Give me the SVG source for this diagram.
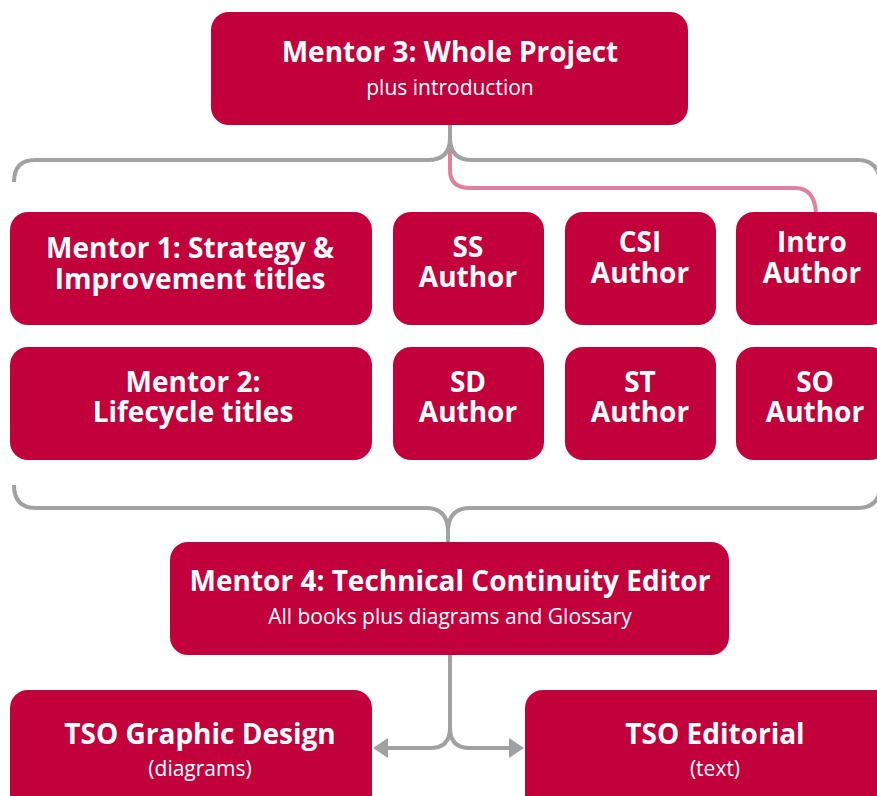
<svg xmlns="http://www.w3.org/2000/svg" width="877" height="796" viewBox="0 0 877 796">
<style>
.box{fill:#C1003C}
.t{font-family:"Open Sans","Noto Sans","Liberation Sans",sans-serif;font-weight:700;font-size:28px;fill:#fff;text-anchor:middle}
.s{font-family:"Open Sans","Noto Sans","Liberation Sans",sans-serif;font-weight:400;font-size:21px;fill:#fff;text-anchor:middle}
.g{fill:none;stroke:#A0A1A0;stroke-width:4}
.p{fill:none;stroke:#E0809D;stroke-width:4}
</style>
<defs>
<marker id="ah" viewBox="0 0 15 20" refX="12" refY="10" markerWidth="3.75" markerHeight="5" markerUnits="strokeWidth" orient="auto"><path d="M0,0 L15,10 L0,20 Z" fill="#A0A1A0"/></marker>
</defs>
<g id="connectors">
<path class="p" d="M450,140 L450,170 Q450,188 470,188 L795,188 Q814,188 816,212"/>
<path class="g" d="M450,125 L450,138 Q450,160 428,160 L35,160 Q14,160 14,182"/>
<path class="g" d="M450,138 Q450,160 472,160 L858,160 Q877,160 880,180"/>
<path class="g" d="M14,485 Q14,508 36,508 L426,508 Q447,508 448,530 L448,543"/>
<path class="g" d="M448,530 Q449,508 470,508 L858,508 Q877,508 880,490"/>
<path class="g" d="M450,655 L450,728 Q450,748 430,748 L376,748" marker-end="url(#ah)"/>
<path class="g" d="M450,728 Q450,748 470,748 L521,748" marker-end="url(#ah)"/>
</g>
<g id="mentor3"><rect class="box" x="211" y="12" width="477" height="113" rx="18"/><text class="t" x="450" y="62">Mentor 3: Whole Project</text><text class="s" x="450" y="95">plus introduction</text></g>
<g id="mentor1"><rect class="box" x="10" y="212" width="362" height="113" rx="18"/><text class="t" x="190" y="258">Mentor 1: Strategy &amp;</text><text class="t" x="190" y="289">Improvement titles</text></g>
<g id="ss"><rect class="box" x="393" y="212" width="151" height="113" rx="18"/><text class="t" x="468" y="257">SS</text><text class="t" x="468" y="287">Author</text></g>
<g id="csi"><rect class="box" x="565" y="212" width="151" height="113" rx="18"/><text class="t" x="640" y="252">CSI</text><text class="t" x="640" y="283">Author</text></g>
<g id="intro"><rect class="box" x="736" y="212" width="152" height="113" rx="18"/><text class="t" x="812" y="252">Intro</text><text class="t" x="812" y="283">Author</text></g>
<g id="mentor2"><rect class="box" x="10" y="347" width="362" height="113" rx="18"/><text class="t" x="193" y="392">Mentor 2:</text><text class="t" x="193" y="422">Lifecycle titles</text></g>
<g id="sd"><rect class="box" x="393" y="347" width="151" height="113" rx="18"/><text class="t" x="468" y="392">SD</text><text class="t" x="468" y="422">Author</text></g>
<g id="st"><rect class="box" x="565" y="347" width="151" height="113" rx="18"/><text class="t" x="640" y="392">ST</text><text class="t" x="640" y="422">Author</text></g>
<g id="so"><rect class="box" x="736" y="347" width="152" height="113" rx="18"/><text class="t" x="815" y="392">SO</text><text class="t" x="815" y="422">Author</text></g>
<g id="mentor4"><rect class="box" x="170" y="542" width="559" height="113" rx="18"/><text class="t" x="450" y="591">Mentor 4: Technical Continuity Editor</text><text class="s" x="450" y="624">All books plus diagrams and Glossary</text></g>
<g id="tsogd"><rect class="box" x="10" y="690" width="362" height="130" rx="18"/><text class="t" x="200" y="744">TSO Graphic Design</text><text class="s" x="200" y="776">(diagrams)</text></g>
<g id="tsoed"><rect class="box" x="525" y="690" width="380" height="130" rx="18"/><text class="t" x="715" y="744">TSO Editorial</text><text class="s" x="715" y="776">(text)</text></g>
</svg>
